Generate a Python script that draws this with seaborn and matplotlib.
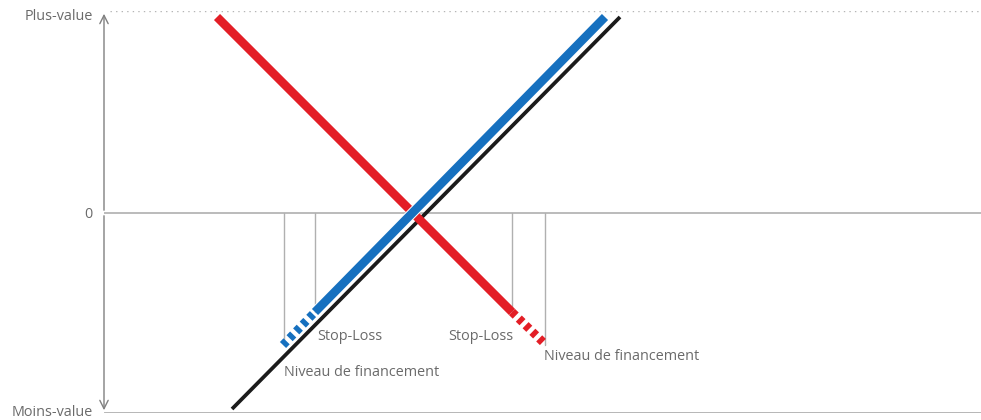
import pandas as pd
import matplotlib.pyplot as plt
import matplotlib.patheffects as pe
import seaborn as sns

sns.set_theme(style='white')
plt.rcParams['font.family'] = ['Open Sans', 'DejaVu Sans']

# segment end points (x = underlying price units, y = profit/loss units)
black_x = [128, 516]
black_y = [-196, 196]
blue_x = [211, 501]
blue_y = [-99, 196]
blue_dash_x = [179, 211]
blue_dash_y = [-132, -99]
red_x = [113, 408]
red_y = [196, -99]
red_dash_x = [408, 442]
red_dash_y = [-99, -132]

# thin guide lines: x, bottom y
guide_x = [180, 211, 408, 441]
guide_bottom = [-132, -99, -99, -132]

ytick_pos = [-197, 0, 198]
ytick_labels = ['Moins-value', '0', 'Plus-value']

labels = [
    ('Stop-Loss', 213, -124, 'left'),
    ('Stop-Loss', 409, -124, 'right'),
    ('Niveau de financement', 180, -159, 'left'),
    ('Niveau de financement', 440, -144, 'left'),
]

RED = '#e31e26'
BLUE = '#1670bf'
DARK = '#1b1b1b'
TEXT = '#6a6a6a'

fig = plt.figure(figsize=(9.81, 4.2), dpi=100)
ax = fig.add_axes([104 / 981, 7 / 420, 1 - 104 / 981, 402 / 420])
ax.set_xlim(0, 877)
ax.set_ylim(-200, 202)

# reference lines
ax.axhline(0, color='#a8a8a8', lw=1.1, zorder=1)
ax.axhline(-200, color='#b0b0b0', lw=2, zorder=1)
ax.plot([6, 877], [202, 202], color='#b5b5b5', lw=1, ls=(0, (1, 3)), zorder=1)
for gx, gb in zip(guide_x, guide_bottom):
    ax.plot([gx, gx], [0, gb], color='#b0b0b0', lw=1, zorder=1)

# vertical axis with arrows
ax.annotate('', xy=(0, 202), xytext=(0, 0),
            arrowprops=dict(arrowstyle='->', color='#808080', lw=1, mutation_scale=15))
ax.annotate('', xy=(0, -200), xytext=(0, 0),
            arrowprops=dict(arrowstyle='->', color='#808080', lw=1, mutation_scale=15))

sns.lineplot(x=black_x, y=black_y, color=DARK, lw=2.7, ax=ax, zorder=3,
             solid_capstyle='butt')
sns.lineplot(x=red_x, y=red_y, color=RED, lw=6.2, ax=ax, zorder=4,
             solid_capstyle='butt')
sns.lineplot(x=red_dash_x, y=red_dash_y, color=RED, lw=6.2, ax=ax, zorder=4,
             linestyle=(0, (0.6, 0.5)), dash_capstyle='butt')
sns.lineplot(x=blue_x, y=blue_y, color=BLUE, lw=6.2, ax=ax, zorder=5,
             solid_capstyle='butt',
             path_effects=[pe.Stroke(linewidth=7.6, foreground='white'), pe.Normal()])
sns.lineplot(x=blue_dash_x, y=blue_dash_y, color=BLUE, lw=6.2, ax=ax, zorder=5,
             linestyle=(0, (0.6, 0.5)), dash_capstyle='butt')

for txt, x, y, ha in labels:
    ax.text(x, y, txt, ha=ha, va='center', fontsize=10.4, color=TEXT)

ax.set_xticks([])
ax.set_yticks(ytick_pos)
ax.set_yticklabels(ytick_labels, fontsize=10.4, color=TEXT)
ax.tick_params(axis='y', length=0, pad=8)
for s in ax.spines.values():
    s.set_visible(False)

fig.savefig('out.png', dpi=100)
